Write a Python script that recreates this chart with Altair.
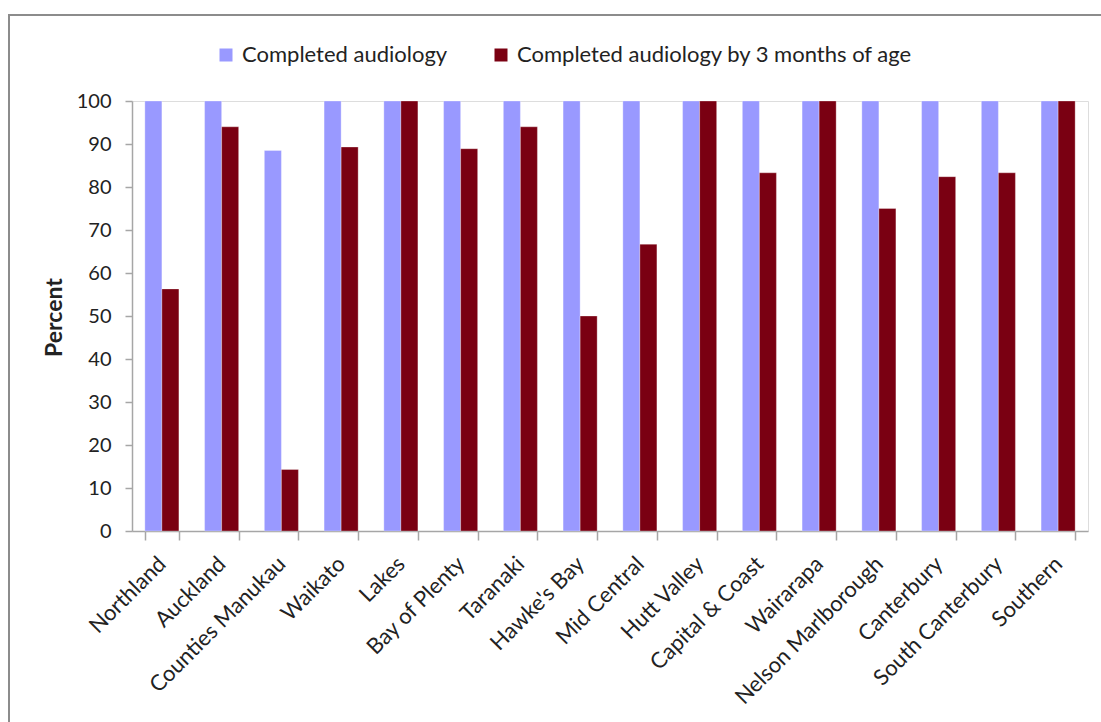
import altair as alt
import pandas as pd

regions = [
    "Northland", "Auckland", "Counties Manukau", "Waikato", "Lakes",
    "Bay of Plenty", "Taranaki", "Hawke's Bay", "Mid Central", "Hutt Valley",
    "Capital & Coast", "Wairarapa", "Nelson Marlborough", "Canterbury",
    "South Canterbury", "Southern",
]
completed = [100, 100, 88.5, 100, 100, 100, 100, 100, 100, 100, 100, 100, 100, 100, 100, 100]
by_3_months = [56.3, 94.0, 14.3, 89.3, 100, 88.9, 94.0, 50.0, 66.7, 100, 83.3, 100, 75.0, 82.4, 83.3, 100]

series_names = ["Completed audiology", "Completed audiology by 3 months of age"]
series_colors = ["#9999FF", "#7A0012"]

rows = []
for i, r in enumerate(regions):
    rows.append({"region": r, "series": series_names[0], "value": completed[i]})
    rows.append({"region": r, "series": series_names[1], "value": by_3_months[i]})
df = pd.DataFrame(rows)

FONT = "Lato"
TEXT = "#222222"
AXIS_GREY = "#A6A6A6"

bars = alt.Chart(df).mark_bar(stroke="white", strokeWidth=0.6, strokeOpacity=0.5).encode(
    x=alt.X(
        "region:N",
        sort=regions,
        title=None,
        scale=alt.Scale(paddingInner=0.43, paddingOuter=0.215),
        axis=alt.Axis(
            labelAngle=-45,
            labelAlign="right",
            labelBaseline="middle",
            labelPadding=20,
            labelLimit=0,
            labelFont=FONT,
            labelFontSize=22,
            labelColor=TEXT,
            tickBand="extent",
            tickSize=9,
            tickColor=AXIS_GREY,
            domainColor=AXIS_GREY,
            domainWidth=1.5,
            tickWidth=1.5,
            grid=False,
        ),
    ),
    xOffset=alt.XOffset(
        "series:N",
        sort=series_names,
        scale=alt.Scale(paddingInner=0, paddingOuter=0),
    ),
    y=alt.Y(
        "value:Q",
        scale=alt.Scale(domain=[0, 100], nice=False),
        axis=alt.Axis(
            values=list(range(0, 101, 10)),
            title="Percent",
            titleFont=FONT,
            titleFontSize=23,
            titleFontWeight="bold",
            titleColor=TEXT,
            titleAngle=-90,
            titleX=-78,
            titleY=216,
            titleAlign="center",
            titleBaseline="middle",
            labelFont=FONT,
            labelFontSize=20,
            labelColor=TEXT,
            labelPadding=14,
            tickSize=7,
            tickColor=AXIS_GREY,
            domainColor=AXIS_GREY,
            domainWidth=1.5,
            tickWidth=1.5,
            grid=False,
        ),
    ),
    color=alt.Color(
        "series:N",
        sort=series_names,
        scale=alt.Scale(domain=series_names, range=series_colors),
        legend=alt.Legend(
            title=None,
            orient="none",
            direction="horizontal",
            legendX=83,
            legendY=-57,
            symbolType="square",
            symbolSize=169,
            symbolStrokeWidth=0,
            labelFont=FONT,
            labelFontSize=22,
            labelColor=TEXT,
            labelLimit=0,
            labelOffset=5,
            columnPadding=42,
        ),
    ),
)

# chart-area frame (its right and bottom edges fall outside the page)
frame = alt.Chart(pd.DataFrame({"k": [0]})).mark_rect(
    fill=None, stroke="#8C8C8C", strokeWidth=2
).encode(
    x=alt.value(-123), x2=alt.value(1200),
    y=alt.value(-86), y2=alt.value(900),
)

chart = alt.layer(frame, bars).properties(
    width=956,
    height=430,
    autosize=alt.AutoSizeParams(type="none"),
    padding={"left": 132, "top": 101, "right": 13, "bottom": 191},
).configure_view(stroke=None).configure(background="white")

chart.save("out.html", embed_options={"renderer": "svg", "actions": False})
